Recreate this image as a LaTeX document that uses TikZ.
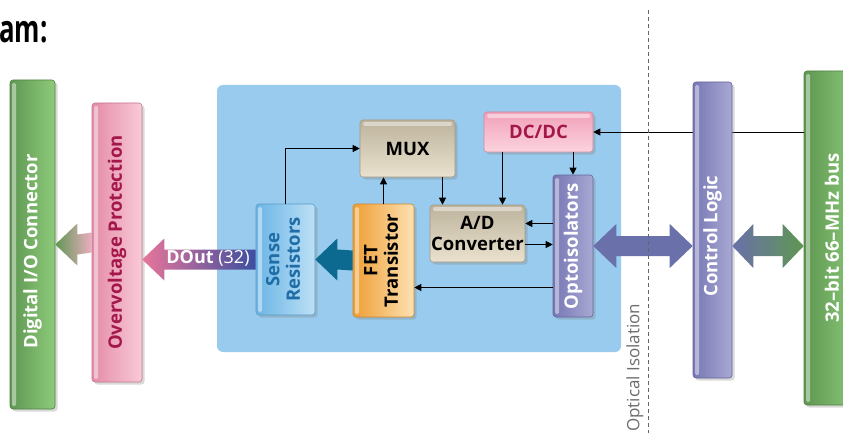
\documentclass[tikz,border=0pt]{standalone}
\usepackage{fontspec}
\setmainfont{Open Sans}
\usetikzlibrary{arrows.meta,calc,shadows}

\definecolor{iogreenA}{HTML}{5F9752}
\definecolor{iogreenB}{HTML}{8DCB7A}
\definecolor{ovpinkA}{HTML}{E48CA7}
\definecolor{ovpinkB}{HTML}{F9CAD7}
\definecolor{ovtext}{HTML}{A3174A}
\definecolor{panelblue}{HTML}{98CBEE}
\definecolor{tanA}{HTML}{BDB39D}
\definecolor{tanB}{HTML}{EAE2CE}
\definecolor{dcpinkA}{HTML}{F1A1B9}
\definecolor{dcpinkB}{HTML}{FCD3DE}
\definecolor{optoA}{HTML}{7777B5}
\definecolor{optoB}{HTML}{A9A9D3}
\definecolor{senseA}{HTML}{6CB5E5}
\definecolor{senseB}{HTML}{BCE0F6}
\definecolor{sensetext}{HTML}{1F6DA6}
\definecolor{fetA}{HTML}{EF9F35}
\definecolor{fetB}{HTML}{FDE1B3}
\definecolor{tealarrow}{HTML}{0C6A90}
\definecolor{purplearrow}{HTML}{6A70AA}
\definecolor{doutpink}{HTML}{E8769A}
\definecolor{doutblue}{HTML}{3C4EA0}

% wide arrow: style, tip, tail, head length
\newcommand{\fatarrow}[4]{%
  \path[#1] (#2) -- ++(#4,21) -- ++(0,-11) -- ($(#3)+(0,10)$)
    -- ($(#3)+(0,-10)$) -- ($(#2)+(#4,-10)$) -- ++(0,-11) -- cycle;}
% wide double arrow: style, left tip, right tip, head length
\newcommand{\dblarrow}[4]{%
  \path[#1] (#2) -- ++(#4,-22) -- ++(0,12) -- ($(#3)+(-#4,-10)$) -- ++(0,-12)
    -- (#3) -- ++(-#4,22) -- ++(0,-12) -- ($(#2)+(#4,10)$) -- ++(0,12) -- cycle;}

\begin{document}
\begin{tikzpicture}[x=1pt,y=-1pt,
    block/.style={rounded corners=3pt, inner sep=0pt, line width=0.6pt,
      font=\bfseries\fontsize{18.5}{20.5}\selectfont,
      drop shadow={shadow xshift=2.5pt, shadow yshift=-2.5pt, opacity=0.3}},
    hlv/.style={path picture={\fill[white, opacity=0.45, rounded corners=1.5pt]
      ([xshift=2pt,yshift=-3pt]path picture bounding box.north west) rectangle
      ([xshift=6pt,yshift=3pt]path picture bounding box.south west);}},
    hlh/.style={path picture={\fill[white, opacity=0.45, rounded corners=1.5pt]
      ([xshift=3pt,yshift=-2pt]path picture bounding box.north west) rectangle
      ([xshift=-3pt,yshift=-6pt]path picture bounding box.north east);}},
    vbar/.style 2 args={block, left color=#1, right color=#2, draw=#1!85!black, hlv},
    hbox/.style 2 args={block, top color=#1, bottom color=#2, draw=#1!85!black, hlh},
    conn/.style={-{Triangle[length=7pt,width=7pt]}, line width=0.9pt},
  ]
  \useasboundingbox (0,0) rectangle (843,433);

  % title (cut off)
  \node[anchor=base west, font=\bfseries\fontsize{38}{42}\selectfont, inner sep=0pt] (title) at (-1,43) {\scalebox{0.68}[1]{am:}};

  % left side
  \node[vbar={iogreenA}{iogreenB}, text=white, minimum width=45pt, minimum height=329pt] (dio) at (32.5,244.5) {\rotatebox{90}{Digital I/O Connector\hspace{14pt}}};
  \node[vbar={ovpinkA}{ovpinkB}, text=ovtext, minimum width=50pt, minimum height=279pt] (ovp) at (117,242.5) {\rotatebox{90}{Overvoltage Protection}};

  % isolated board
  \node[fill=panelblue, rounded corners=6pt, minimum width=404pt, minimum height=267pt] (panel) at (419,218.5) {};
  \node[hbox={tanA}{tanB}, minimum width=95pt, minimum height=57pt] (mux) at (407.5,148.5) {MUX};
  \node[hbox={dcpinkA}{dcpinkB}, text=ovtext, minimum width=109pt, minimum height=40pt] (dcdc) at (538.5,132) {DC/DC};
  \node[hbox={tanA}{tanB}, align=center, minimum width=95pt, minimum height=57pt] (adc) at (477.5,233.5) {A/D\\Converter};
  \node[vbar={optoA}{optoB}, text=white, minimum width=40pt, minimum height=142pt] (opto) at (573,246) {\rotatebox{90}{Optoisolators}};
  \node[vbar={senseA}{senseB}, text=sensetext, minimum width=59pt, minimum height=111pt] (sense) at (285.5,259.5) {\rotatebox{90}{\begin{tabular}{@{}c@{}}Sense\\Resistors\end{tabular}}};
  \node[vbar={fetA}{fetB}, minimum width=61pt, minimum height=113pt] (fet) at (383.5,260.5) {\rotatebox{90}{\begin{tabular}{@{}c@{}}FET\\Transistor\end{tabular}}};

  % right side
  \node[vbar={iogreenA}{iogreenB}, text=white, minimum width=56pt, minimum height=334pt] (bus) at (832,238) {\rotatebox{90}{32–bit 66–MHz bus}};
  \draw[conn] (bus.west |- dcdc.east) -- (dcdc.east);
  \node[vbar={optoA}{optoB}, text=white, minimum width=39pt, minimum height=296pt] (ctrl) at (712.5,230) {\rotatebox{90}{Control Logic\hspace{12pt}}};

  % signal lines
  \draw[conn] (sense.north) |- (mux.west);
  \draw[conn] (fet.north) -- (fet.north |- mux.south);
  \draw[conn] ([xshift=35pt]mux.south) -- ([xshift=35pt]mux.south |- adc.north);
  \draw[conn] ([xshift=-36pt]dcdc.south) -- ([xshift=-36pt]dcdc.south |- adc.north);
  \draw[conn] (dcdc.south -| opto.north) -- (opto.north);
  \draw[conn] ([yshift=10pt]adc.east -| opto.west) -- ([yshift=10pt]adc.east);
  \draw[conn] ([yshift=-11pt]adc.east) -- ([yshift=-11pt]adc.east -| opto.west);
  \draw[conn] ([yshift=-27pt]fet.east -| opto.west) -- ([yshift=-27pt]fet.east);

  % wide arrows
  \fatarrow{left color=iogreenA, right color=ovpinkA!70}{dio.east}{ovp.west}{22}
  \fatarrow{left color=doutpink, right color=doutblue}{ovp.east |- sense.west}{sense.west}{22}
  \fatarrow{fill=tealarrow}{sense.east}{fet.west}{22}
  \dblarrow{fill=purplearrow}{opto.east}{ctrl.west |- opto.east}{23}
  \dblarrow{left color=purplearrow, right color=iogreenA}{ctrl.east |- opto.east}{bus.west |- opto.east}{21}
  \node[text=white, font=\fontsize{18}{20}\selectfont, inner sep=0pt] (doutlbl) at (208,258.5) {\textbf{DOut} (32)};

  % optical isolation
  \coordinate (isotop) at (648,10);
  \coordinate (isobot) at (648,433);
  \draw[gray!80!black, dashed, dash pattern=on 4pt off 3pt, line width=0.7pt] (isotop) -- (isobot);
  \node[rotate=90, anchor=west, text=gray!85!black, font=\fontsize{17}{19}\selectfont, inner sep=0pt] (isolbl) at (635,432) {Optical Isolation};
\end{tikzpicture}
\end{document}
